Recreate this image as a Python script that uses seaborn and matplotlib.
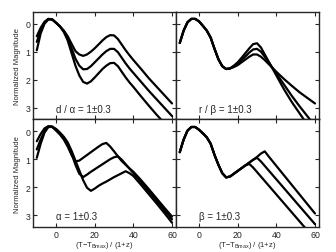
import numpy as np
import pandas as pd
import seaborn as sns
import matplotlib
matplotlib.use("Agg")
import matplotlib.pyplot as plt

# rest-frame days since B max
days = [-10, -8, -6, -4, -2, 0, 2, 4, 6, 8, 10, 12, 14, 16, 18, 20, 22, 24,
        26, 28, 30, 32, 34, 36, 38, 40, 44, 48, 52, 56, 60]

# d / alpha panel
d_alpha_lo = [0.45, 0.15, -0.07, -0.17, -0.15, -0.03, 0.10, 0.25, 0.45, 0.72, 0.98, 1.10, 1.15, 1.10, 1.00, 0.88, 0.74, 0.60,
              0.48, 0.41, 0.42, 0.55, 0.75, 0.95, 1.13, 1.30, 1.62, 1.95, 2.25, 2.55, 2.85]
d_alpha_mid = [0.65, 0.25, -0.03, -0.17, -0.15, -0.03, 0.10, 0.27, 0.52, 0.88, 1.25, 1.50, 1.63, 1.62, 1.52, 1.38, 1.24, 1.10,
               0.98, 0.90, 0.90, 1.02, 1.22, 1.42, 1.60, 1.76, 2.08, 2.40, 2.70, 3.00, 3.30]
d_alpha_hi = [0.95, 0.35, 0.00, -0.15, -0.15, -0.03, 0.10, 0.30, 0.60, 1.05, 1.50, 1.85, 2.08, 2.14, 2.06, 1.92, 1.77, 1.62,
              1.50, 1.41, 1.40, 1.52, 1.72, 1.92, 2.10, 2.26, 2.60, 2.93, 3.25, 3.55, 3.85]

# r / beta panel
r_beta_early = [0.69, 0.25, -0.05, -0.17, -0.17, -0.08, 0.08, 0.25, 0.50, 0.90, 1.27, 1.52, 1.62, 1.60]
r_beta_lo = r_beta_early + [1.50, 1.38, 1.22, 1.05, 0.88, 0.73, 0.70, 0.85, 1.10, 1.35, 1.60, 1.85, 2.35, 2.80, 3.20, 3.60, 4.00]
r_beta_mid = r_beta_early + [1.52, 1.43, 1.30, 1.17, 1.03, 0.92, 0.90, 1.00, 1.18, 1.38, 1.58, 1.78, 2.18, 2.58, 2.95, 3.30, 3.65]
r_beta_hi = r_beta_early + [1.55, 1.48, 1.38, 1.28, 1.18, 1.10, 1.10, 1.18, 1.30, 1.44, 1.58, 1.72, 1.98, 2.22, 2.45, 2.65, 2.85]

# alpha panel
alpha_lo = [0.95, 0.45, 0.05, -0.15, -0.15, -0.02, 0.12, 0.30, 0.55, 0.85, 1.08, 1.05, 0.95, 0.85, 0.75, 0.65, 0.55, 0.46,
            0.42, 0.55, 0.72, 0.90, 1.07, 1.20, 1.33, 1.45, 1.75, 2.07, 2.40, 2.73, 3.05]
alpha_mid = [0.65, 0.30, 0.00, -0.17, -0.17, -0.06, 0.08, 0.25, 0.47, 0.80, 1.20, 1.52, 1.64, 1.55, 1.45, 1.36, 1.27, 1.18,
             1.09, 1.00, 0.93, 0.90, 1.02, 1.18, 1.34, 1.50, 1.82, 2.15, 2.48, 2.82, 3.15]
alpha_hi = [0.36, 0.10, -0.10, -0.18, -0.15, -0.08, 0.05, 0.20, 0.40, 0.70, 1.05, 1.40, 1.75, 2.02, 2.13, 2.05, 1.95, 1.87,
            1.80, 1.72, 1.64, 1.57, 1.50, 1.43, 1.50, 1.60, 1.92, 2.25, 2.58, 2.92, 3.27]

# beta panel
beta_early = [0.75, 0.30, -0.02, -0.15, -0.15, -0.05, 0.08, 0.22, 0.45, 0.85, 1.20, 1.50, 1.65, 1.62, 1.52, 1.42, 1.32, 1.22]
beta_lo = beta_early + [1.17, 1.30, 1.46, 1.62, 1.78, 1.94, 2.10, 2.26, 2.58, 2.90, 3.22, 3.54, 3.86]
beta_mid = beta_early + [1.12, 1.02, 0.95, 1.08, 1.24, 1.40, 1.56, 1.72, 2.04, 2.36, 2.68, 3.00, 3.32]
beta_hi = beta_early + [1.12, 1.02, 0.92, 0.80, 0.72, 0.90, 1.07, 1.24, 1.58, 1.92, 2.26, 2.60, 2.94]

panel_labels = ["d / \u03b1 = 1\u00b10.3", "r / \u03b2 = 1\u00b10.3", "\u03b1 = 1\u00b10.3", "\u03b2 = 1\u00b10.3"]
panel_curves = [
    [d_alpha_lo, d_alpha_mid, d_alpha_hi],
    [r_beta_lo, r_beta_mid, r_beta_hi],
    [alpha_lo, alpha_mid, alpha_hi],
    [beta_lo, beta_mid, beta_hi],
]

sns.set_style("ticks")
plt.rcParams["font.family"] = ["Liberation Sans", "DejaVu Sans"]
plt.rcParams["mathtext.default"] = "regular"

fig, axes = plt.subplots(2, 2, figsize=(3.36, 2.53), dpi=100, sharex=True, sharey=True)
fig.subplots_adjust(left=0.098, right=0.949, top=0.949, bottom=0.099, wspace=0, hspace=0)

for ax, curves, label in zip(axes.flat, panel_curves, panel_labels):
    for mag in curves:
        df = pd.DataFrame({"t": days, "mag": mag})
        sns.lineplot(data=df, x="t", y="mag", ax=ax, color="black", lw=1.6, sort=False)
    ax.set_xlim(-12, 62)
    ax.set_ylim(3.42, -0.42)
    ax.set_xticks([0, 20, 40, 60])
    ax.set_yticks([0, 1, 2, 3])
    ax.tick_params(direction="in", top=True, right=True, length=3, width=0.8,
                   labelsize=6.3, pad=2)
    for s in ax.spines.values():
        s.set_linewidth(1.0)
    ax.set_xlabel("")
    ax.set_ylabel("")
    ax.text(0.16, 0.10, label, transform=ax.transAxes, fontsize=7, va="center", ha="left")

for ax in axes[:, 0]:
    ax.set_ylabel("Normalized Magnitude", fontsize=5.5, labelpad=3)
for ax in axes[1, :]:
    ax.set_xlabel("(T\u2212T$_{Bmax}$) / (1+z)", fontsize=5.5, labelpad=0)

fig.savefig("out.png", dpi=100)
